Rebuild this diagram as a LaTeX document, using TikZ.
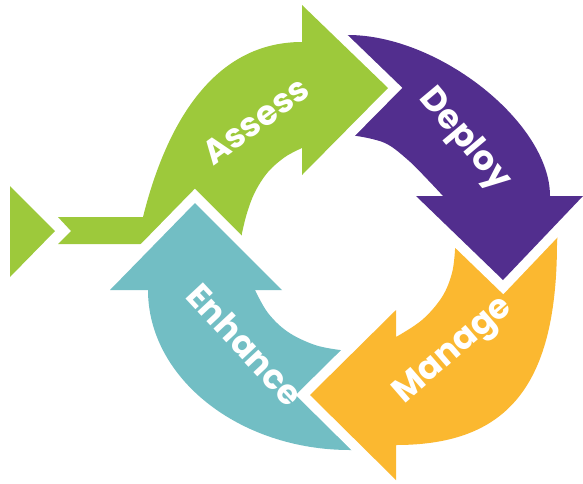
\documentclass[tikz,border=0pt]{standalone}
\usepackage{fontspec}
\setmainfont{Poppins}
\definecolor{cAssess}{RGB}{157,201,59}
\definecolor{cDeploy}{RGB}{82,46,142}
\definecolor{cManage}{RGB}{251,184,48}
\definecolor{cEnhance}{RGB}{114,190,196}
% outlines of the four cycle arrows (page units, y pointing down)
\def\pathAssess{(58,217) -- (143,217) .. controls (167,121) and (215,42) .. (302,42)
  -- (302,5) -- (388,88) -- (302,175) -- (302,148)
  -- plot[smooth,tension=0.6] coordinates {(302,148) (285,157) (268,172) (255,192) (247,213) (242,233)}
  -- (240,252) -- (145,244) -- (58,244) -- (71,231) -- cycle}
\def\pathDeploy{(338,35) -- (348,35) .. controls (439,35) and (550,123) .. (550,196)
  -- (583,196) -- (503,280) -- (416,196) -- (443,196)
  -- plot[smooth,tension=0.6] coordinates {(443,196) (428,180) (408,160) (385,143) (357,136)}
  -- (345,134) -- cycle}
\def\pathManage{(456,236) -- (558,232) -- (557,242) .. controls (557,384) and (509,445) .. (396,445)
  -- (396,480) -- (310,395) -- (396,310) -- (396,337)
  -- plot[smooth,tension=0.6] coordinates {(396,337) (422,320) (442,297) (452,273) (455,250)}
  -- cycle}
\def\pathEnhance{(148,290) .. controls (148,378) and (239,450) .. (350,450)
  -- (362,450) -- (355,352) -- (340,350)
  -- plot[smooth,tension=0.6] coordinates {(340,350) (315,345) (288,332) (268,313) (255,290)}
  -- (282,290) -- (195,203) -- (110,290) -- cycle}
\begin{document}
\begin{tikzpicture}[x=1pt,y=-1pt,
  halo/.style={draw=white,line width=20pt,line join=miter,miter limit=4},
  lbl/.style={text=white,font=\fontsize{34}{34}\selectfont\bfseries,
    inner sep=0pt,text height=0.55em,text depth=0pt}]
\useasboundingbox (0,0) rectangle (583,483);
% entry triangle
\fill[cAssess] (10,186) -- (55,231) -- (10,277) -- cycle;
% arrows, each with a white halo so its head cuts into the next tail
\draw[halo] \pathEnhance; \fill[cEnhance] \pathEnhance;
\draw[halo] \pathManage;  \fill[cManage]  \pathManage;
\draw[halo] \pathDeploy;  \fill[cDeploy]  \pathDeploy;
\draw[halo] \pathAssess;  \fill[cAssess]  \pathAssess;
% the Enhance head sits over the Assess tail
\begin{scope}
  \clip (90,180) rectangle (300,300);
  \draw[halo] \pathEnhance; \fill[cEnhance] \pathEnhance;
\end{scope}
% labels
\node[lbl,rotate=36]  (tAssess)  at (261,128) {Assess};
\node[lbl,rotate=-50] (tDeploy)  at (460,143) {Deploy};
\node[lbl,rotate=41]  (tManage)  at (457,355) {Manage};
\node[lbl,rotate=-47] (tEnhance) at (238,351) {Enhance};
\end{tikzpicture}
\end{document}
